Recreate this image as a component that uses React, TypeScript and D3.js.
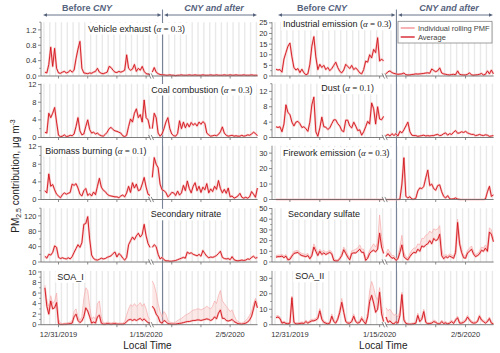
import React from 'react';
import * as d3 from 'd3';

const SANS = 'Liberation Sans, Arial, sans-serif';
const SERIF = 'Liberation Serif, Times New Roman, serif';
const RED = '#d1121a';
const PINK = '#f7b3b3';
const SLATE = '#56637d';
const AXIS = '#6e6e6e';

// sampling: every 8 h, before the axis break and after it
const T0 = new Date(2019, 11, 28);
const day = (d: number) => new Date(T0.getTime() + d * 864e5);
const startBefore = new Date(2019, 11, 28, 16);
const startAfter = new Date(2020, 0, 22, 16);
const STEP_H = 8;
const CNY = new Date(2020, 0, 24, 10);

const xTicks = [new Date(2019, 11, 31), new Date(2020, 0, 5), new Date(2020, 0, 10), new Date(2020, 0, 15),
  new Date(2020, 0, 26), new Date(2020, 0, 31), new Date(2020, 1, 5)];
const xLabels = [new Date(2019, 11, 31), new Date(2020, 0, 15), new Date(2020, 1, 5)];

// ---- left column ----
const vehicle = [0.1,0.08,0.3,0.75,0.25,0.72,0.2,0.08,0.07,0.1, 0.12,0.08,0.1,0.15,0.1,0.15,0.45,0.7,0.9,0.2,
  0.08,0.07,0.06,0.08,0.07,0.1,0.12,0.2,0.1,0.07, 0.06,0.08,0.1,0.25,0.22,0.15,0.1,0.09,0.12,0.1,
  0.12,0.15,0.55,0.2,0.15,0.18,0.3,0.12,0.2,0.15, 0.25,0.12,0.06,0.05,0.04];
const vehicleAfter = [0.1,0.22,0.1,0.06,0.04,0.03,0.03,0.02,0.02,0.03, 0.02,0.02,0.01,0.02,0.02,0.03,0.02,0.02,0.02,0.03,
  0.02,0.02,0.03,0.02,0.02,0.02,0.03,0.02,0.02,0.02, 0.03,0.02,0.02,0.03,0.02,0.02,0.02,0.03,0.02,0.02,
  0.03,0.02,0.02,0.03,0.02,0.02,0.02,0.03,0.02,0.02, 0.02,0.03,0.02,0.02,0.02];

const coal = [1.2,1.0,5.5,4.5,5.5,6.8,3.5,0.5,0.2,0.3, 0.6,0.2,0.3,0.5,0.4,0.8,2.5,4.5,1.5,0.6,
  0.8,2.5,4.0,1.8,1.0,1.2,0.8,1.0,0.6,0.4, 0.3,0.7,1.2,2.0,2.3,1.8,1.5,1.4,1.2,1.0,
  0.4,0.2,0.5,2.5,4.2,3.5,5.5,6.5,4.5,5.2, 3.5,8.5,4.5,4.0,2.0];
const coalAfter = [2.0,5.5,4.5,1.0,0.3,0.8,2.0,3.5,4.5,2.0, 0.8,0.4,0.3,0.9,3.8,2.0,3.5,2.2,3.2,2.4,
  3.4,2.8,3.2,2.6,3.5,3.0,3.6,3.2,1.0,0.6, 0.3,0.4,0.5,0.4,0.7,1.3,2.4,1.0,0.5,0.3,
  0.4,0.5,0.3,0.4,0.3,0.3,0.5,0.3,0.4,0.6, 0.5,0.8,1.2,0.9,0.4];

const biomass = [2.0,1.5,5.8,3.0,3.4,2.2,1.2,0.8,0.4,1.1, 1.5,1.2,1.4,1.6,3.5,3.2,3.6,2.6,1.2,0.8,
  2.0,2.5,0.9,1.3,0.8,1.7,1.1,3.0,4.8,2.8, 2.1,1.8,1.2,0.9,0.8,0.7,0.6,0.6,0.4,0.8,
  1.0,0.6,1.5,3.0,1.6,3.8,2.6,3.5,2.0,2.2, 3.5,5.0,2.8,1.2,0.9];
const biomassAfter = [5.0,9.5,8.0,7.2,3.5,2.2,2.0,1.6,0.6,1.0, 1.6,1.5,0.9,1.9,1.0,1.5,3.2,2.0,4.2,2.5,
  1.5,3.0,3.8,2.0,3.0,1.6,2.8,2.2,3.6,1.5, 2.4,1.8,3.0,2.3,4.3,2.5,1.5,2.3,1.4,2.6,
  0.6,0.8,0.3,0.5,0.8,1.4,0.5,0.3,0.5,0.3, 0.6,1.8,1.2,0.5,2.6];

const nitrate = [15,10,20,18,25,42,38,12,9,11, 9,8,11,8,14,25,35,45,38,50,
  98,100,118,60,18,9,6,5,7,10, 8,9,12,14,16,22,26,13,22,18,
  10,5,12,45,55,65,58,68,75,65, 72,98,68,48,38];
const nitrateAfter = [38,45,40,20,8,12,6,3,3,2, 2,3,4,6,8,10,12,10,26,22,
  24,20,18,16,20,15,30,22,15,11, 13,12,14,17,22,28,12,9,8,9,
  6,14,6,4,3,4,5,4,5,8, 7,12,15,10,12];

const soaI = [7.0,3.5,2.0,4.5,3.0,3.2,4.2,0.2,0.05,0.05, 0.1,0.1,0.15,0.2,0.3,1.5,2.0,0.8,0.4,0.7,
  1.5,3.2,2.6,1.5,0.3,0.5,0.3,1.5,1.8,0.3, 0.1,0.1,0.2,0.15,0.1,0.15,0.2,0.1,0.1,0.1,
  0.1,0.2,0.6,0.9,1.0,0.8,1.0,0.8,1.0,1.2, 0.8,1.1,0.7,0.4,0.3];
const soaIAfter = [3.5,3.0,2.0,1.5,0.5,0.3,0.8,0.6,0.2,0.15, 0.1,0.1,0.1,0.2,0.25,0.3,0.4,0.5,0.6,0.6,
  0.7,0.8,0.8,0.9,0.9,0.8,0.9,1.0,1.1,1.0, 0.8,1.0,1.5,1.1,2.2,2.8,1.2,1.2,0.8,0.7,
  0.8,1.0,0.6,0.4,0.2,0.15,0.1,0.2,0.3,0.5, 0.9,1.6,3.0,4.5,3.2];
// upper edge of the individual rolling PMF runs
const soaIHi = [7.5,4.5,3.5,5.5,4.0,4.5,6.0,1.0,0.3,0.2, 0.3,0.3,0.4,0.5,0.8,2.5,3.0,1.5,0.8,1.5,
  5.0,7.0,6.5,3.5,1.0,1.5,1.0,4.0,4.5,1.5, 0.4,0.3,0.5,0.4,0.3,0.4,0.5,0.3,0.3,0.3,
  0.3,0.6,1.8,3.0,3.8,3.5,4.0,3.5,3.8,4.2, 3.5,4.0,3.0,1.5,1.0];
const soaIHiAfter = [8.3,7.5,6.0,4.0,2.5,1.5,2.5,2.0,0.8,0.5, 0.4,0.4,0.5,0.8,1.0,1.2,1.5,1.8,2.0,2.2,
  2.5,2.8,2.8,3.0,3.0,2.8,3.0,3.2,3.5,3.2, 3.0,3.5,4.5,4.0,5.5,6.5,4.5,4.0,3.5,3.0,
  2.5,2.8,1.8,1.0,0.6,0.4,0.3,0.5,0.8,1.2, 1.8,2.5,4.0,5.0,4.0];

// ---- right column ----
const industrial = [3.2,2.8,3.0,1.8,8.0,11.0,14.0,15.5,9.0,4.0, 2.8,3.5,1.6,3.2,1.5,0.6,1.0,5.5,14.0,18.5,
  9.0,3.0,5.5,4.0,5.0,3.0,4.0,2.5,3.5,5.0, 6.5,4.0,2.2,1.5,2.8,5.5,4.5,3.5,5.0,3.0,
  3.8,2.8,1.5,1.0,3.0,7.0,6.5,10.0,8.5,12.5, 11.0,18.0,7.0,8.0,7.0];
const industrialAfter = [1.0,2.0,2.4,1.6,1.2,1.0,0.8,0.9,1.0,1.4, 0.6,0.5,0.5,0.7,0.8,1.0,0.9,1.0,1.1,1.2,
  1.4,1.5,1.3,3.3,2.6,2.0,2.5,3.8,1.4,1.0, 0.8,0.6,0.5,0.7,0.8,0.6,2.4,0.8,0.6,0.5,
  0.5,0.8,1.5,0.5,0.4,0.5,0.6,0.8,1.2,0.5, 0.8,2.4,1.0,2.8,1.0];

const dust = [2.8,2.6,2.8,1.5,3.5,8.5,6.5,6.0,4.0,3.0, 4.0,4.2,3.6,2.6,2.8,2.3,1.6,4.0,8.5,10.5,
  1.5,0.3,2.5,5.3,2.8,2.7,2.1,2.5,3.6,4.6, 4.6,3.6,3.0,1.8,1.5,4.5,4.5,3.0,2.5,4.0,
  3.0,1.8,2.0,0.6,1.5,2.8,4.2,3.5,9.0,7.5, 3.5,8.0,4.8,4.6,5.5];
const dustAfter = [0.5,0.8,0.4,1.0,0.5,1.0,0.4,1.6,1.2,2.0, 3.0,4.0,1.5,0.6,0.5,0.5,0.3,0.4,0.5,0.6,
  0.4,0.5,0.4,0.5,0.5,0.7,0.8,0.5,0.6,1.0, 1.2,0.6,1.0,0.8,1.4,1.8,1.1,1.2,1.5,1.3,
  1.6,1.2,1.0,0.8,0.8,0.5,0.6,0.8,0.6,0.5, 0.7,0.6,0.3,0.4,0.5];

const firework = [0,0,0,0,0,0,0,0,0,0, 0,0,0,0,0,0,0,0,0,0,
  0,0,0,0,0,0,0,0,0,0, 0,0,0,0,0,0,0,0,0,0,
  0,0,0,0,0,0,0,0,0,0, 0,0,0,0,0];
const fireworkAfter = [0,0,0,0,0,0,0,0.2,10,27, 2,1.0,1.8,0.3,0.2,0.8,5.5,7.5,7.0,8.5,
  14,19,9,10,7,6,9,9.5,5,2, 1,2.5,0.5,0.3,0.5,1.0,0.3,0.1,0,0,
  0,0,0,0,0,0,0,0,0,0, 0.3,5,8.5,2,3];

const sulfate = [4.5,5.0,5.0,5.5,4.0,5.5,2.0,2.5,5.5,8.0, 8.5,9.0,7.0,6.0,5.5,5.0,6.0,3.0,6.0,14.0,
  10.0,6.0,10.0,7.0,8.5,7.0,8.0,9.0,7.5,1.5, 1.0,1.0,3.0,6.0,11.5,8.0,4.5,2.0,8.0,8.5,
  8.5,10.0,12.0,9.0,9.0,1.5,3.5,8.0,10.0,11.0, 9.5,12.0,27.0,14.0,8.0];
const sulfateAfter = [5.0,8.0,5.5,3.5,4.0,1.5,3.0,9.0,16.0,5.0, 3.0,2.0,5.0,7.5,9.0,8.5,12.0,10.0,15.0,14.0,
  16.0,17.0,20.0,17.0,22.0,20.0,21.0,26.0,6.0,3.0, 5.0,4.0,5.5,4.5,3.5,9.0,37.0,17.0,9.0,4.0,
  3.5,8.5,10.0,12.0,7.5,5.0,6.0,7.5,11.0,10.0, 13.0,10.0,28.0,26.0,19.0];
const sulfateHi = [6,6.5,6.5,7,5.5,7,3,4,7,10, 10.5,11,9,8,7.5,7,8,4.5,8,17,
  13,8,12,9.5,11,9,10,11,9.5,3, 2,2,4.5,8,14,11,7,3.5,10.5,11,
  12,13,16,12,12,3,6,11,14,17, 14,18,44,24,13];
const sulfateHiAfter = [8,12,9,6,6,3,5,14,25,9, 5,4,8,11,13,13,17,16,22,22,
  25,26,29,27,31,30,31,34,12,5, 7,6,7.5,6.5,5.5,12,40,21,12,6,
  5.5,11,13,15,10,7,8,10,14,13, 16,13,32,30,22];

const soaII = [4.5,5.0,4.0,1.0,1.5,0.8,0.5,1.0,17.5,1.5, 0.5,0.5,0.8,1.0,0.8,2.0,1.0,1.8,2.5,2.5,
  3.0,4.0,9.0,3.5,1.5,1.0,0.5,1.0,5.5,2.0, 1.0,3.5,8.0,14.5,8.0,2.0,1.0,1.0,2.0,5.5,
  2.0,1.0,1.5,4.0,2.0,0.5,5.0,15.0,19.0,14.0, 8.0,10.0,21.0,7.0,2.0];
const soaIIAfter = [5.0,1.5,2.5,1.0,0.5,2.0,1.0,6.0,19.5,3.0, 0.8,0.4,0.3,0.4,0.6,1.0,6.0,2.0,3.5,8.5,
  1.5,0.6,0.8,1.0,2.0,1.5,0.6,0.5,2.0,0.8, 1.2,0.5,1.0,2.0,0.8,3.0,4.5,1.0,1.0,1.5,
  2.5,5.0,3.0,1.5,1.0,1.2,2.0,5.5,3.0,2.0, 1.0,2.0,4.0,1.0,0.5];
const soaIIHi = [5.5,6,5,1.8,2.3,1.5,1.2,1.8,18.5,2.5, 1.2,1.2,1.5,1.8,1.5,3,1.8,2.8,3.5,3.5,
  4.2,5.5,10.5,5,2.5,1.8,1.2,1.8,7,3, 1.8,5,10,17,10,3,1.8,1.8,3,7,
  3,1.8,2.5,5.5,3,1.5,8,22,28,24, 18,16,24,12,6];
const soaIIHiAfter = [11,9,10,8,6,7,5,9,21,5, 1.5,1,0.8,1,1.2,1.8,7.5,3,5,10,
  2.5,1.2,1.5,1.8,3,2.5,1.2,1,3,1.5, 2,1,1.8,3,1.5,4,5.5,1.8,1.8,2.5,
  3.5,6,4,2.5,1.8,2,3,6.5,4,3, 1.8,3,5,1.8,1];

// ---- layout ----
const columns = [
  { axisX: 41, before: [41, 150.2], after: [151.9, 257.6] },
  { axisX: 272, before: [272, 383.8], after: [385.6, 493.6] },
];
const domBefore = [day(0), day(18.7)];
const domAfter = [day(25.6), day(43.7)];
const rowBottoms = [76, 137.5, 199.5, 262, 324.7];
const ROW_H = 53.8;

type PanelDef = {
  col: number; row: number; name: string; alpha?: string;
  before: number[]; after: number[]; hiBefore?: number[]; hiAfter?: number[];
  max: number; step: number; fmt?: string; lx: number; ly: number; lw: number;
};

const panels: PanelDef[] = [
  { col: 0, row: 0, name: 'Vehicle exhaust', alpha: '0.3', before: vehicle, after: vehicleAfter, max: 1.4, step: 0.4, fmt: '.1f', lx: 88, ly: 31.5, lw: 99 },
  { col: 0, row: 1, name: 'Coal combustion', alpha: '0.3', before: coal, after: coalAfter, max: 12.2, step: 4, lx: 151.3, ly: 92.5, lw: 103 },
  { col: 0, row: 2, name: 'Biomass burning', alpha: '0.1', before: biomass, after: biomassAfter, max: 12.2, step: 4, lx: 45.3, ly: 153.5, lw: 103 },
  { col: 0, row: 3, name: 'Secondary nitrate', before: nitrate, after: nitrateAfter, max: 140, step: 40, lx: 150.7, ly: 217.3, lw: 70 },
  { col: 0, row: 4, name: 'SOA_I', before: soaI, after: soaIAfter, hiBefore: soaIHi, hiAfter: soaIHiAfter, max: 10.2, step: 2, lx: 57.3, ly: 279.8, lw: 26 },
  { col: 1, row: 0, name: 'Industrial emission', alpha: '0.3', before: industrial, after: industrialAfter, max: 25.3, step: 5, lx: 283, ly: 27.3, lw: 109 },
  { col: 1, row: 1, name: 'Dust', alpha: '0.1', before: dust, after: dustAfter, max: 14, step: 4, lx: 321.3, ly: 91.3, lw: 56 },
  { col: 1, row: 2, name: 'Firework emission', alpha: '0.3', before: firework, after: fireworkAfter, max: 34.8, step: 10, lx: 283, ly: 155.8, lw: 108 },
  { col: 1, row: 3, name: 'Secondary sulfate', before: sulfate, after: sulfateAfter, hiBefore: sulfateHi, hiAfter: sulfateHiAfter, max: 50.3, step: 10, lx: 288, ly: 216.5, lw: 70 },
  { col: 1, row: 4, name: 'SOA_II', before: soaII, after: soaIIAfter, hiBefore: soaIIHi, hiAfter: soaIIHiAfter, max: 34.8, step: 10, lx: 295.3, ly: 279.3, lw: 28 },
];

function scalesFor(col: number) {
  const c = columns[col];
  const xb = d3.scaleTime().domain(domBefore).range(c.before);
  const xa = d3.scaleTime().domain(domAfter).range(c.after);
  const xAny = (t: Date) => (t <= domBefore[1] ? xb(t) : xa(t));
  return { c, xb, xa, xAny };
}

function Grid({ p }: { p: PanelDef }) {
  const { xb, xa } = scalesFor(p.col);
  const bottom = rowBottoms[p.row];
  const top = bottom - ROW_H;
  const xs = [...d3.range(0.5, 18.7, 1).map(d => xb(day(d))), ...d3.range(26.5, 43.7, 1).map(d => xa(day(d)))];
  return (
    <g>
      {xs.map((x, i) => <line key={i} x1={x} x2={x} y1={top} y2={bottom} stroke="#e9e9e9" strokeWidth={1.4} />)}
    </g>
  );
}

function Panel({ p }: { p: PanelDef }) {
  const { c, xb, xa, xAny } = scalesFor(p.col);
  const bottom = rowBottoms[p.row];
  const top = bottom - ROW_H;
  const y = d3.scaleLinear().domain([0, p.max]).range([bottom, top]);
  const atB = (i: number) => xb(d3.timeHour.offset(startBefore, STEP_H * i));
  const atA = (i: number) => xa(d3.timeHour.offset(startAfter, STEP_H * i));
  const lineB = d3.line<number>().x((_, i) => atB(i)).y(v => y(v));
  const lineA = d3.line<number>().x((_, i) => atA(i)).y(v => y(v));
  const band = (at: (i: number) => number, lo: number[], hi: number[]) =>
    d3.area<number>().x((_, i) => at(i)).y0((_, i) => y(lo[i])).y1(v => y(v))(hi) || '';
  const ticks = d3.range(0, p.max + 1e-9, p.step);
  const minor = d3.range(p.step / 2, p.max + 1e-9, p.step);
  const fmt = p.fmt ? d3.format(p.fmt) : (v: number) => String(v);
  const fmtDate = d3.timeFormat('%-m/%-d/%Y');
  const ax = c.axisX;
  const brk = (x: number) => <line x1={x - 1.2} x2={x + 1.2} y1={bottom - 2.6} y2={bottom + 2.6} stroke={AXIS} strokeWidth={0.8} />;
  return (
    <g>
      <rect x={p.lx - 2} y={p.ly - 8.5} width={p.lw + 4} height={11.5} fill="white" />
      {p.hiBefore && p.hiAfter && (
        <g>
          <path d={band(atB, p.before, p.hiBefore)} fill={PINK} opacity={0.3} />
          <path d={band(atA, p.after, p.hiAfter)} fill={PINK} opacity={0.3} />
          <path d={lineB(p.hiBefore) || ''} fill="none" stroke="#f6aaaa" strokeWidth={0.7} />
          <path d={lineA(p.hiAfter) || ''} fill="none" stroke="#f6aaaa" strokeWidth={0.7} />
        </g>
      )}
      <path d={lineB(p.before) || ''} fill="none" stroke={PINK} strokeWidth={2.2} strokeOpacity={0.75} strokeLinejoin="round" />
      <path d={lineA(p.after) || ''} fill="none" stroke={PINK} strokeWidth={2.2} strokeOpacity={0.75} strokeLinejoin="round" />
      <path d={lineB(p.before) || ''} fill="none" stroke={RED} strokeWidth={0.9} strokeLinejoin="round" />
      <path d={lineA(p.after) || ''} fill="none" stroke={RED} strokeWidth={0.9} strokeLinejoin="round" />
      {/* y axis */}
      <line x1={ax} x2={ax} y1={top} y2={bottom} stroke={AXIS} strokeWidth={0.8} />
      {ticks.map(t => (
        <g key={t}>
          <line x1={ax - 3} x2={ax} y1={y(t)} y2={y(t)} stroke={AXIS} strokeWidth={0.8} />
          <text x={ax - 4.5} y={y(t)} dy="0.35em" textAnchor="end" fontSize={7.5} fill="#333">{fmt(t)}</text>
        </g>
      ))}
      {minor.map(t => <line key={'m' + t} x1={ax - 1.8} x2={ax} y1={y(t)} y2={y(t)} stroke={AXIS} strokeWidth={0.7} />)}
      {/* x axis with break */}
      <line x1={ax} x2={c.before[1]} y1={bottom} y2={bottom} stroke={AXIS} strokeWidth={0.9} />
      <line x1={c.after[0]} x2={c.after[1]} y1={bottom} y2={bottom} stroke={AXIS} strokeWidth={0.9} />
      {brk(c.before[1] - 0.5)}
      {brk(c.after[0] + 0.5)}
      {xTicks.map((t, i) => <line key={i} x1={xAny(t)} x2={xAny(t)} y1={bottom} y2={bottom + 2.5} stroke={AXIS} strokeWidth={0.8} />)}
      {p.row === 4 && xLabels.map((t, i) => (
        <text key={i} x={xAny(t)} y={bottom + 12.3} textAnchor="middle" fontSize={7.5} fill="#333">{fmtDate(t)}</text>
      ))}
      <text x={p.lx} y={p.ly} fontSize={9} fill="#222">
        {p.name}
        {p.alpha && (
          <>
            {' ('}
            <tspan fontFamily={SERIF} fontStyle="italic">α</tspan>
            <tspan fontFamily={SERIF}>{' = ' + p.alpha}</tspan>
            {')'}
          </>
        )}
      </text>
    </g>
  );
}

function Arrow({ x1, x2, yy }: { x1: number; x2: number; yy: number }) {
  return (
    <g>
      <line x1={x1 + 2} x2={x2 - 2} y1={yy} y2={yy} stroke={SLATE} strokeWidth={0.9} />
      <polygon points={`${x1},${yy} ${x1 + 4},${yy - 1.8} ${x1 + 4},${yy + 1.8}`} fill={SLATE} />
      <polygon points={`${x2},${yy} ${x2 - 4},${yy - 1.8} ${x2 - 4},${yy + 1.8}`} fill={SLATE} />
    </g>
  );
}

const headers = [
  { before: [43, 161.5], after: [164, 257], bc: 87, ac: 214, title: 147.5 },
  { before: [278, 395.5], after: [398, 493], bc: 322, ac: 449, title: 383.3 },
];

export default function App() {
  return (
    <svg width={500} height={353} viewBox="0 0 500 353" fontFamily={SANS}
      style={{ position: 'absolute', left: 0, top: 0, background: '#fff' }}>
      {panels.map((p, i) => <Grid key={i} p={p} />)}
      {columns.map((_, i) => {
        const x = scalesFor(i).xa(CNY);
        return <line key={i} x1={x} x2={x} y1={9.5} y2={rowBottoms[4]} stroke="#7a8499" strokeWidth={1.1} />;
      })}
      {panels.map((p, i) => <Panel key={i} p={p} />)}
      {headers.map((h, i) => (
        <g key={i}>
          <Arrow x1={h.before[0]} x2={h.before[1]} yy={15} />
          <Arrow x1={h.after[0]} x2={h.after[1]} yy={15} />
          <text x={h.bc} y={10.5} textAnchor="middle" fontSize={9} fontWeight="bold" fill={SLATE}>
            Before <tspan fontStyle="italic">CNY</tspan>
          </text>
          <text x={h.ac} y={10.5} textAnchor="middle" fontSize={9} fontWeight="bold" fontStyle="italic" fill={SLATE}>
            CNY and after
          </text>
          <text x={h.title} y={349} textAnchor="middle" fontSize={10} fill="#222">Local Time</text>
        </g>
      ))}
      <text transform="translate(18.5,176) rotate(-90)" textAnchor="middle" fontSize={10} fill="#222">
        PM<tspan fontSize={7} dy={2}>2.5</tspan>
        <tspan dy={-2}> contribution, μg m</tspan>
        <tspan fontSize={7} dy={-4}>-3</tspan>
      </text>
      {/* legend */}
      <rect x={398} y={21.3} width={94} height={21.7} fill="white" stroke="#888" strokeWidth={0.8} />
      <line x1={400.7} x2={414.7} y1={28} y2={28} stroke={PINK} strokeWidth={2} />
      <text x={418} y={30.6} fontSize={7.5} fill="#444">Individual rolling PMF</text>
      <line x1={400.7} x2={414.7} y1={37} y2={37} stroke={RED} strokeWidth={1.3} />
      <text x={418} y={39.6} fontSize={7.5} fill="#444">Average</text>
    </svg>
  );
}
